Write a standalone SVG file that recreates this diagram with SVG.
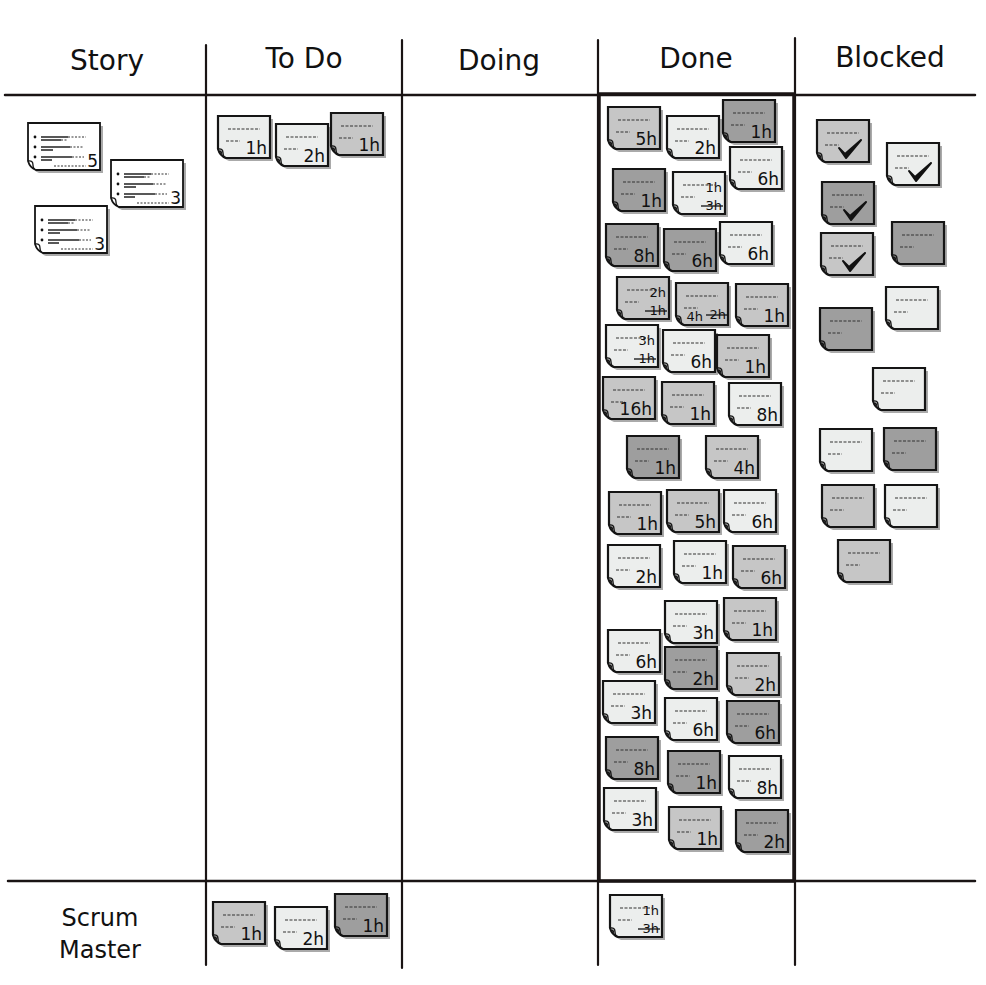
<svg xmlns="http://www.w3.org/2000/svg" xmlns:xlink="http://www.w3.org/1999/xlink" width="986" height="985" viewBox="0 0 986 985">
<style>
.hd{font-family:"DejaVu Sans","Liberation Sans",sans-serif;font-size:28px;fill:#111;text-anchor:middle}
.sm{font-family:"DejaVu Sans","Liberation Sans",sans-serif;font-size:24px;fill:#111;text-anchor:middle}
.t{font-family:"DejaVu Sans","Liberation Sans",sans-serif;font-size:17px;fill:#111;text-anchor:end}
.t2{font-family:"DejaVu Sans","Liberation Sans",sans-serif;font-size:13px;fill:#111;text-anchor:end}
.l{fill:#eceeed}.m{fill:#c6c6c6}.d{fill:#9e9e9e}
.ln{stroke:#1a1414;fill:none;stroke-linecap:round}
.st{stroke:#111;stroke-width:1.3;fill:none}
</style>
<defs>
<g id="note">
<path d="M0,0 H52 V42 H8 Q2,40 0,33 Z" transform="translate(3,3)" fill="#aaaaaa"/>
<path d="M0,0 H52 V42 H8 Q2,40 0,33 Z" stroke="#151515" stroke-width="2.2"/>
<path d="M0,33 Q5,32 5,37 Q5,41 8,42 M2,35 Q4,36 3,38" fill="none" stroke="#151515" stroke-width="1.4"/>
<path d="M10,13 H42 M8,25 H22" stroke="#333" stroke-width="1.2" stroke-dasharray="3 1.5"/>
</g>
<g id="story">
<path d="M0,0 H72 V47 H8 Q2,45 0,38 Z" transform="translate(3,3)" fill="#aaaaaa"/>
<path d="M0,0 H72 V47 H8 Q2,45 0,38 Z" fill="#ffffff" stroke="#151515" stroke-width="1.8"/>
<path d="M0,38 Q5,37 5,42 Q5,46 8,47" fill="none" stroke="#151515" stroke-width="1.3"/>
<circle cx="7" cy="14" r="1.4" fill="#111"/><circle cx="7" cy="24" r="1.4" fill="#111"/><circle cx="7" cy="34" r="1.4" fill="#111"/>
<path d="M13,14 H40 M13,17 H33 M13,24 H42 M13,27 H25 M13,34 H44 M13,37 H24" stroke="#222" stroke-width="1.6"/>
<path d="M40,14 H58 M33,17 H40 M42,24 H56 M44,34 H56 M26,43 H58" stroke="#333" stroke-width="1.1" stroke-dasharray="2 1.5"/>
</g>
<path id="chk" d="M22,28 L28,34 L44,20 L29,38 Z" fill="#111" stroke="#111" stroke-width="2" stroke-linejoin="round"/>
</defs>

<g id="grid">
<path class="ln" stroke-width="2.5" d="M5,95 H975"/>
<path class="ln" stroke-width="2.5" d="M8,881 H975"/>
<path class="ln" stroke-width="2.2" d="M206,45 V965"/>
<path class="ln" stroke-width="2.2" d="M402,40 V968"/>
<path class="ln" stroke-width="2.2" d="M598,40 V965"/>
<path class="ln" stroke-width="2.2" d="M795,38 V965"/>
<path class="ln" stroke-width="3.5" d="M599,94 V881 H794 V94 Z"/>
</g>

<g id="headers">
<text class="hd" x="107" y="70">Story</text>
<text class="hd" x="304" y="68">To Do</text>
<text class="hd" x="499" y="70">Doing</text>
<text class="hd" x="696" y="68">Done</text>
<text class="hd" x="890" y="67">Blocked</text>
<text class="sm" x="100" y="926">Scrum</text>
<text class="sm" x="100" y="958">Master</text>
</g>

<g id="story-notes">
<g id="s1" transform="translate(28,123)"><use href="#story"/><text class="t" x="70" y="44">5</text></g>
<g id="s2" transform="translate(111,160)"><use href="#story"/><text class="t" x="70" y="44">3</text></g>
<g id="s3" transform="translate(35,206)"><use href="#story"/><text class="t" x="70" y="44">3</text></g>
</g>

<g id="todo-notes">
<g id="td1" transform="translate(218,116)"><use href="#note" class="l"/><text class="t" x="49" y="38">1h</text></g>
<g id="td2" transform="translate(276,124)"><use href="#note" class="l"/><text class="t" x="49" y="38">2h</text></g>
<g id="td3" transform="translate(331,113)"><use href="#note" class="m"/><text class="t" x="49" y="38">1h</text></g>
</g>

<g id="done-notes">
<g id="dn1" transform="translate(608,107)"><use href="#note" class="m"/><text class="t" x="49" y="38">5h</text></g>
<g id="dn2" transform="translate(667,116)"><use href="#note" class="l"/><text class="t" x="49" y="38">2h</text></g>
<g id="dn3" transform="translate(723,100)"><use href="#note" class="d"/><text class="t" x="49" y="38">1h</text></g>
<g id="dn4" transform="translate(730,147)"><use href="#note" class="l"/><text class="t" x="49" y="38">6h</text></g>
<g id="dn5" transform="translate(613,169)"><use href="#note" class="d"/><text class="t" x="49" y="38">1h</text></g>
<g id="dn6" transform="translate(673,172)"><use href="#note" class="l"/><text class="t2" x="49" y="20">1h</text><text class="t2" x="49" y="38">3h</text><path class="st" d="M28,34 H50"/></g>
<g id="dn7" transform="translate(606,224)"><use href="#note" class="d"/><text class="t" x="49" y="38">8h</text></g>
<g id="dn8" transform="translate(664,229)"><use href="#note" class="d"/><text class="t" x="49" y="38">6h</text></g>
<g id="dn9" transform="translate(720,222)"><use href="#note" class="l"/><text class="t" x="49" y="38">6h</text></g>
<g id="dn10" transform="translate(617,277)"><use href="#note" class="m"/><text class="t2" x="49" y="20">2h</text><text class="t2" x="49" y="38">1h</text><path class="st" d="M28,34 H50"/></g>
<g id="dn11" transform="translate(676,283)"><use href="#note" class="m"/><text class="t2" x="27" y="38">4h</text><text class="t2" x="50" y="36">2h</text><path class="st" d="M30,32 H52"/></g>
<g id="dn12" transform="translate(736,284)"><use href="#note" class="m"/><text class="t" x="49" y="38">1h</text></g>
<g id="dn13" transform="translate(606,325)"><use href="#note" class="l"/><text class="t2" x="49" y="20">3h</text><text class="t2" x="49" y="38">1h</text><path class="st" d="M28,34 H50"/></g>
<g id="dn14" transform="translate(663,330)"><use href="#note" class="l"/><text class="t" x="49" y="38">6h</text></g>
<g id="dn15" transform="translate(717,335)"><use href="#note" class="m"/><text class="t" x="49" y="38">1h</text></g>
<g id="dn16" transform="translate(603,377)"><use href="#note" class="m"/><text class="t" x="49" y="38">16h</text></g>
<g id="dn17" transform="translate(662,382)"><use href="#note" class="m"/><text class="t" x="49" y="38">1h</text></g>
<g id="dn18" transform="translate(729,383)"><use href="#note" class="l"/><text class="t" x="49" y="38">8h</text></g>
<g id="dn19" transform="translate(627,436)"><use href="#note" class="d"/><text class="t" x="49" y="38">1h</text></g>
<g id="dn20" transform="translate(706,436)"><use href="#note" class="m"/><text class="t" x="49" y="38">4h</text></g>
<g id="dn21" transform="translate(609,492)"><use href="#note" class="m"/><text class="t" x="49" y="38">1h</text></g>
<g id="dn22" transform="translate(667,490)"><use href="#note" class="m"/><text class="t" x="49" y="38">5h</text></g>
<g id="dn23" transform="translate(724,490)"><use href="#note" class="l"/><text class="t" x="49" y="38">6h</text></g>
<g id="dn24" transform="translate(608,545)"><use href="#note" class="l"/><text class="t" x="49" y="38">2h</text></g>
<g id="dn25" transform="translate(674,541)"><use href="#note" class="l"/><text class="t" x="49" y="38">1h</text></g>
<g id="dn26" transform="translate(733,546)"><use href="#note" class="m"/><text class="t" x="49" y="38">6h</text></g>
<g id="dn27" transform="translate(665,601)"><use href="#note" class="l"/><text class="t" x="49" y="38">3h</text></g>
<g id="dn28" transform="translate(724,598)"><use href="#note" class="m"/><text class="t" x="49" y="38">1h</text></g>
<g id="dn29" transform="translate(608,630)"><use href="#note" class="l"/><text class="t" x="49" y="38">6h</text></g>
<g id="dn30" transform="translate(665,647)"><use href="#note" class="d"/><text class="t" x="49" y="38">2h</text></g>
<g id="dn31" transform="translate(727,653)"><use href="#note" class="m"/><text class="t" x="49" y="38">2h</text></g>
<g id="dn32" transform="translate(603,681)"><use href="#note" class="l"/><text class="t" x="49" y="38">3h</text></g>
<g id="dn33" transform="translate(665,698)"><use href="#note" class="l"/><text class="t" x="49" y="38">6h</text></g>
<g id="dn34" transform="translate(727,701)"><use href="#note" class="d"/><text class="t" x="49" y="38">6h</text></g>
<g id="dn35" transform="translate(606,737)"><use href="#note" class="d"/><text class="t" x="49" y="38">8h</text></g>
<g id="dn36" transform="translate(668,751)"><use href="#note" class="d"/><text class="t" x="49" y="38">1h</text></g>
<g id="dn37" transform="translate(729,756)"><use href="#note" class="l"/><text class="t" x="49" y="38">8h</text></g>
<g id="dn38" transform="translate(604,788)"><use href="#note" class="l"/><text class="t" x="49" y="38">3h</text></g>
<g id="dn39" transform="translate(669,807)"><use href="#note" class="m"/><text class="t" x="49" y="38">1h</text></g>
<g id="dn40" transform="translate(736,810)"><use href="#note" class="d"/><text class="t" x="49" y="38">2h</text></g>
</g>

<g id="blocked-notes">
<g id="b1" transform="translate(817,120)"><use href="#note" class="m"/><use href="#chk"/></g>
<g id="b2" transform="translate(887,143)"><use href="#note" class="l"/><use href="#chk"/></g>
<g id="b3" transform="translate(822,182)"><use href="#note" class="d"/><use href="#chk"/></g>
<g id="b4" transform="translate(821,233)"><use href="#note" class="m"/><use href="#chk"/></g>
<g id="b5" transform="translate(892,222)"><use href="#note" class="d"/></g>
<g id="b6" transform="translate(886,287)"><use href="#note" class="l"/></g>
<g id="b7" transform="translate(820,308)"><use href="#note" class="d"/></g>
<g id="b8" transform="translate(873,368)"><use href="#note" class="l"/></g>
<g id="b9" transform="translate(820,429)"><use href="#note" class="l"/></g>
<g id="b10" transform="translate(884,428)"><use href="#note" class="d"/></g>
<g id="b11" transform="translate(822,485)"><use href="#note" class="m"/></g>
<g id="b12" transform="translate(885,485)"><use href="#note" class="l"/></g>
<g id="b13" transform="translate(838,540)"><use href="#note" class="m"/></g>
</g>

<g id="scrum-notes">
<g id="sm1" transform="translate(213,902)"><use href="#note" class="m"/><text class="t" x="49" y="38">1h</text></g>
<g id="sm2" transform="translate(275,907)"><use href="#note" class="l"/><text class="t" x="49" y="38">2h</text></g>
<g id="sm3" transform="translate(335,894)"><use href="#note" class="d"/><text class="t" x="49" y="38">1h</text></g>
<g id="sm4" transform="translate(610,895)"><use href="#note" class="l"/><text class="t2" x="49" y="20">1h</text><text class="t2" x="49" y="38">3h</text><path class="st" d="M28,34 H50"/></g>
</g>
</svg>
